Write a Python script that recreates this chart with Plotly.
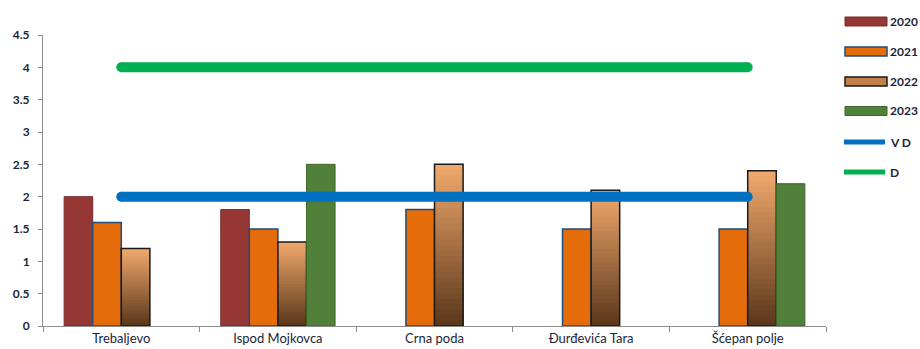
import plotly.graph_objects as go

# Locations and measured values per year (None = no measurement)
locations = ["Trebaljevo", "Ispod Mojkovca", "Crna poda", "Đurđevića Tara", "Šćepan polje"]
years = ["2020", "2021", "2022", "2023"]
v2020 = [2.0, 1.8, None, None, None]
v2021 = [1.6, 1.5, 1.8, 1.5, 1.5]
v2022 = [1.2, 1.3, 2.5, 2.1, 2.4]
v2023 = [None, 2.5, None, None, 2.2]

# Reference levels
vd_level = 2.0
d_level = 4.0
y_ticks = [0, 0.5, 1, 1.5, 2, 2.5, 3, 3.5, 4, 4.5]

bar_fill = ["#953735", "#E46C0A", "#B8763F", "#50803A"]
bar_edge = ["#7A2B2A", "#1F4E79", "#1A1A1A", "#3E6425"]
bar_edge_w = [1, 1.5, 1.5, 1]
line_colors = {"V D": "#0070C0", "D": "#00B050"}
text_color = "#1C2538"

# 2022 bars get a vertical light-to-dark shading
shade_top = (239, 168, 108)
shade_bottom = (92, 56, 27)
n_shades = 30


def mix(a, b, t):
    return "rgb({},{},{})".format(*[round(a[k] + (b[k] - a[k]) * t) for k in range(3)])


fig = go.Figure()
series = [v2020, v2021, v2022, v2023]
for i, (name, vals) in enumerate(zip(years, series)):
    if name == "2022":
        # shading layers: full-height light bar first, then shorter and darker ones on top
        for k in range(n_shades):
            frac = (n_shades - k) / n_shades
            t = k / (n_shades - 1)
            fig.add_trace(go.Bar(
                x=locations,
                y=[None if v is None else v * frac for v in vals],
                offsetgroup=name,
                marker=dict(color=mix(shade_top, shade_bottom, t), line=dict(width=0)),
                showlegend=False, hoverinfo="skip",
            ))
        fig.add_trace(go.Bar(
            x=locations, y=vals, name=name, offsetgroup=name,
            marker=dict(color="rgba(0,0,0,0)", line=dict(color=bar_edge[i], width=bar_edge_w[i])),
            showlegend=False,
        ))
    else:
        fig.add_trace(go.Bar(
            x=locations, y=vals, name=name, offsetgroup=name,
            marker=dict(color=bar_fill[i], line=dict(color=bar_edge[i], width=bar_edge_w[i])),
            showlegend=False,
        ))

# Horizontal reference lines spanning first to last location, round-ended
for name, level in [("V D", vd_level), ("D", d_level)]:
    xs = [locations[0], locations[-1]]
    fig.add_trace(go.Scatter(
        x=xs, y=[level, level], mode="lines+markers", name=name,
        line=dict(color=line_colors[name], width=10),
        marker=dict(color=line_colors[name], size=10),
        showlegend=False, cliponaxis=False,
    ))

# Legend drawn on the right of the plot area
L, R, T, B = 43, 94, 35, 23
W, H = 920 - L - R, 349 - T - B


def px(x):
    return (x - L) / W


def py(y):
    return (349 - B - y) / H


legend_rows = [21.5, 51.5, 81.5, 111, 142, 172]
legend_fill = ["#953735", "#E46C0A", "#C0804A", "#50803A"]
shapes = []
annotations = []
for i, name in enumerate(years):
    yc = legend_rows[i]
    shapes.append(dict(type="rect", xref="paper", yref="paper",
                       x0=px(845), x1=px(887), y0=py(yc + 4.5), y1=py(yc - 4.5),
                       fillcolor=legend_fill[i], line=dict(color=bar_edge[i], width=bar_edge_w[i])))
    annotations.append(dict(xref="paper", yref="paper", x=px(888), y=py(yc), text=name,
                            showarrow=False, xanchor="left", yanchor="middle",
                            font=dict(size=12, color=text_color, family="Lato", weight="bold")))
for j, name in enumerate(["V D", "D"]):
    yc = legend_rows[4 + j]
    shapes.append(dict(type="line", xref="paper", yref="paper",
                       x0=px(844), x1=px(885), y0=py(yc), y1=py(yc),
                       line=dict(color=line_colors[name], width=5)))
    annotations.append(dict(xref="paper", yref="paper", x=px(888), y=py(yc), text=name,
                            showarrow=False, xanchor="left", yanchor="middle",
                            font=dict(size=12, color=text_color, family="Lato", weight="bold")))

fig.update_layout(
    width=920, height=349,
    margin=dict(l=L, r=R, t=T, b=B),
    paper_bgcolor="white", plot_bgcolor="white",
    barmode="group", bargap=0.27, bargroupgap=0,
    font=dict(family="Lato", size=12, color=text_color),
    shapes=shapes, annotations=annotations,
    showlegend=False,
)
fig.update_xaxes(
    automargin=False,
    showline=True, linecolor="#8C8C8C", linewidth=1,
    ticks="outside", tickson="boundaries", ticklen=5, tickcolor="#8C8C8C",
    ticklabelstandoff=0,
    showgrid=False, tickfont=dict(size=13, color=text_color, family="Lato"),
)
fig.update_yaxes(
    automargin=False,
    range=[0, 4.5], tickvals=y_ticks, ticktext=[f"{v:g}" for v in y_ticks],
    showline=True, linecolor="#8C8C8C", linewidth=1,
    ticks="outside", ticklen=4, tickcolor="#8C8C8C",
    ticklabelstandoff=6,
    showgrid=False, zeroline=False,
    tickfont=dict(size=12, color=text_color, family="Lato", weight="bold"),
)

fig.write_html("out.html")
